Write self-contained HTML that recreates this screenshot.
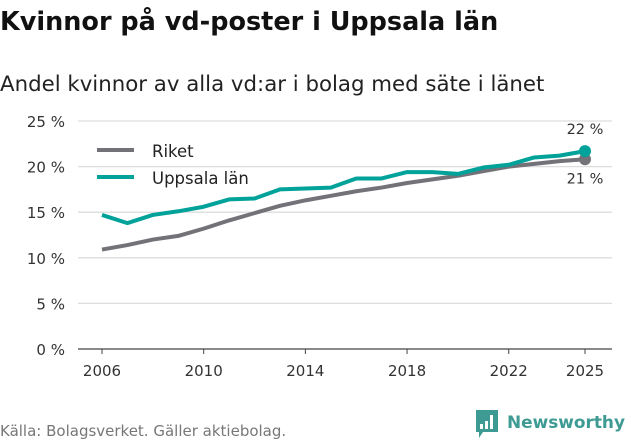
<!DOCTYPE html>
<html><head><meta charset="utf-8"><style>
body{margin:0;background:#fff;font-family:"DejaVu Sans","Liberation Sans",sans-serif;}
svg text{font-family:"DejaVu Sans","Liberation Sans",sans-serif;}
</style></head><body>
<svg id="c" width="631" height="439" xmlns="http://www.w3.org/2000/svg">
<text x="0" y="30" font-size="25.5" font-weight="bold" fill="#111">Kvinnor på vd-poster i Uppsala län</text>
<text x="0" y="91" font-size="21.3" fill="#222">Andel kvinnor av alla vd:ar i bolag med säte i länet</text>
<g id="grid"></g><g id="lines"></g>
<g>
<line x1="97" y1="150" x2="134" y2="150" stroke="#737278" stroke-width="4"/>
<text x="152" y="157" font-size="16.5" fill="#222">Riket</text>
<line x1="97" y1="177" x2="134" y2="177" stroke="#00a29a" stroke-width="4"/>
<text x="152" y="184" font-size="16.5" fill="#222">Uppsala län</text>
</g>
<text x="0" y="436" font-size="15" fill="#777">Källa: Bolagsverket. Gäller aktiebolag.</text>
<g>
<path d="M476 410h22v22h-15l-4 6v-6h-3z" fill="#3d9b93"/>
<rect x="480" y="424" width="3" height="5" fill="#fff"/><rect x="485" y="421" width="3" height="8" fill="#fff"/><rect x="490" y="415" width="3" height="14" fill="#fff"/>
<text x="507" y="428" font-size="17" font-weight="bold" fill="#3d9b93" textLength="118" lengthAdjust="spacingAndGlyphs">Newsworthy</text>
</g>
</svg>
<script>
const years=[2006,2007,2008,2009,2010,2011,2012,2013,2014,2015,2016,2017,2018,2019,2020,2021,2022,2023,2024,2025];
const riket=[10.9,11.4,12.0,12.4,13.2,14.1,14.9,15.7,16.3,16.8,17.3,17.7,18.2,18.6,19.0,19.5,20.0,20.3,20.6,20.8];
const uppsala=[14.7,13.8,14.7,15.1,15.6,16.4,16.5,17.5,17.6,17.7,18.7,18.7,19.4,19.4,19.2,19.9,20.2,21.0,21.2,21.7];
const yTicks=[0,5,10,15,20,25];
const xTicks=[2006,2010,2014,2018,2022,2025];
const NS="http://www.w3.org/2000/svg";
const X=v=>102+(v-2006)*(585-102)/19;
const Y=v=>349-v*(349-121)/25;
const grid=document.getElementById('grid'),lines=document.getElementById('lines');
function mk(t,a,p){const e=document.createElementNS(NS,t);for(const k in a)e.setAttribute(k,a[k]);p.appendChild(e);return e;}
yTicks.forEach(v=>{
 const l=mk('line',{x1:78,x2:612,y1:Y(v),y2:Y(v),stroke:v===0?'#444':'#ddd','stroke-width':1.3},grid);
 
 
 const t=mk('text',{x:65,y:Y(v)+6,'font-size':15,fill:'#333','text-anchor':'end'},grid);t.textContent=v+' %';
 
 
});
xTicks.forEach(v=>{
 mk('line',{x1:X(v),x2:X(v),y1:349,y2:354,stroke:'#444'},grid);
 const t=mk('text',{x:X(v),y:376,'font-size':15,fill:'#333','text-anchor':'middle'},grid);t.textContent=v;
 
 
});
function series(d,c,name){
 const p=mk('polyline',{points:d.map((v,i)=>X(years[i])+','+Y(v)).join(' '),fill:'none',stroke:c,'stroke-width':4,'stroke-linejoin':'round'},lines);
 
 
 const n=d.length-1;
 const dot=mk('circle',{cx:X(years[n]),cy:Y(d[n]),r:6,fill:c},lines);
 
 
}
series(riket,'#737278','riket');
series(uppsala,'#00a29a','uppsala');
const n=years.length-1;
let t=mk('text',{x:X(years[n]),y:Y(uppsala[n])-17,'font-size':14.5,fill:'#333','text-anchor':'middle'},lines);t.textContent=Math.round(uppsala[n])+' %';


t=mk('text',{x:X(years[n]),y:Y(riket[n])+24,'font-size':14.5,fill:'#333','text-anchor':'middle'},lines);t.textContent=Math.round(riket[n])+' %';


</script>
</body></html>
